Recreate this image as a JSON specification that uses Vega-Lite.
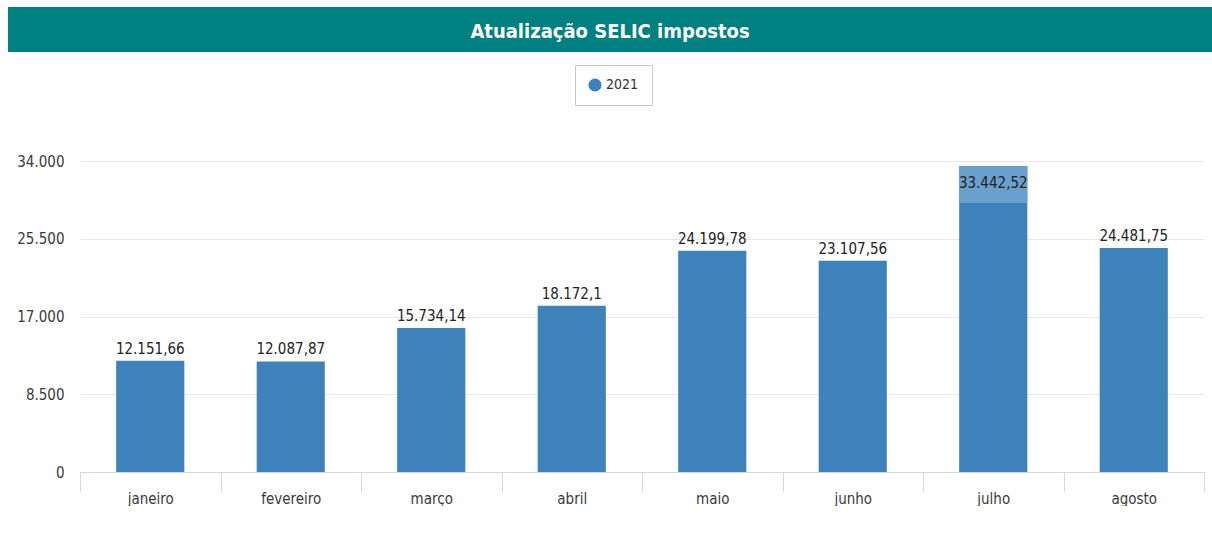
{
  "$schema": "https://vega.github.io/schema/vega-lite/v6.json",
  "padding": {"left": 8, "top": 7, "right": 0, "bottom": 0},
  "background": "#ffffff",
  "spacing": 12,
  "config": {
    "locale": {"number": {"decimal": ",", "thousands": ".", "grouping": [3], "currency": ["R$", ""]}},
    "font": "DejaVu Sans Condensed, Roboto, sans-serif",
    "concat": {"spacing": 12}
  },
  "resolve": {"scale": {"color": "independent"}, "legend": {"color": "independent"}},
  "vconcat": [
    {
      "width": 1204,
      "height": 45,
      "view": {"fill": "#008080", "stroke": null},
      "data": {"values": [{"titulo": "Atualização SELIC impostos"}]},
      "mark": {"type": "text", "font": "DejaVu Sans Condensed, Roboto, sans-serif", "fontWeight": "bold", "fontSize": 20, "color": "#ffffff", "baseline": "middle", "align": "center", "dy": 2},
      "encoding": {"text": {"field": "titulo"}}
    },
    {
      "width": 1196,
      "height": 311,
      "view": {"stroke": null},
      "data": {"values": [
        {"mes": "janeiro", "valor": 12151.66, "ano": "2021"},
        {"mes": "fevereiro", "valor": 12087.87, "ano": "2021"},
        {"mes": "março", "valor": 15734.14, "ano": "2021"},
        {"mes": "abril", "valor": 18172.1, "ano": "2021"},
        {"mes": "maio", "valor": 24199.78, "ano": "2021"},
        {"mes": "junho", "valor": 23107.56, "ano": "2021"},
        {"mes": "julho", "valor": 33442.52, "ano": "2021"},
        {"mes": "agosto", "valor": 24481.75, "ano": "2021"}
      ]},
      "encoding": {
        "x": {
          "field": "mes", "type": "nominal",
          "sort": ["janeiro", "fevereiro", "março", "abril", "maio", "junho", "julho", "agosto"],
          "scale": {"range": [72, 1196], "paddingInner": 0, "paddingOuter": 0},
          "axis": {
            "title": null, "labelAngle": 0, "tickBand": "extent",
            "domainColor": "#cdd8e6", "tickColor": "#cdd8e6", "tickSize": 19,
            "labelFontSize": 15, "labelColor": "#3a3a3a", "labelPadding": 0,
            "labelFont": "DejaVu Sans Condensed, Roboto, sans-serif", "grid": false
          }
        },
        "y": {
          "field": "valor", "type": "quantitative",
          "scale": {"domain": [0, 34000], "nice": false},
          "axis": {
            "title": null, "values": [0, 8500, 17000, 25500, 34000], "format": ",d",
            "offset": -72, "domain": false, "ticks": false, "labelPadding": 16,
            "labelFontSize": 15, "labelColor": "#3a3a3a", "labelFont": "DejaVu Sans Condensed, Roboto, sans-serif",
            "grid": true, "gridColor": "#e8e8e8", "gridWidth": 1
          }
        }
      },
      "layer": [
        {
          "mark": {"type": "bar", "width": {"band": 0.485}},
          "encoding": {
            "color": {
              "field": "ano", "type": "nominal",
              "scale": {"range": ["#3d82bb"]},
              "legend": {
                "title": null, "orient": "none", "legendX": 567, "legendY": -96,
                "strokeColor": "#c9c9c9", "padding": 13, "symbolType": "circle",
                "symbolSize": 170, "symbolStrokeWidth": 0, "labelFontSize": 14,
                "labelColor": "#333333", "labelFont": "DejaVu Sans Condensed, Roboto, sans-serif", "symbolOffset": 0
              }
            }
          }
        },
        {
          "transform": [{"filter": "datum.mes === 'julho'"}],
          "mark": {"type": "bar", "width": {"band": 0.485}, "color": "#6aa0cd", "y2Offset": 37},
          "encoding": {"y2": {"field": "valor"}}
        },
        {
          "transform": [{"filter": "datum.mes !== 'julho'"}],
          "mark": {"type": "text", "baseline": "bottom", "dy": -4, "fontSize": 15, "color": "#222222", "font": "DejaVu Sans Condensed, Roboto, sans-serif"},
          "encoding": {"text": {"field": "valor", "type": "quantitative", "format": ",.2~f"}}
        },
        {
          "transform": [{"filter": "datum.mes === 'julho'"}],
          "mark": {"type": "text", "baseline": "top", "dy": 10, "fontSize": 15, "color": "#222222", "font": "DejaVu Sans Condensed, Roboto, sans-serif"},
          "encoding": {"text": {"field": "valor", "type": "quantitative", "format": ",.2~f"}}
        }
      ]
    }
  ]
}
